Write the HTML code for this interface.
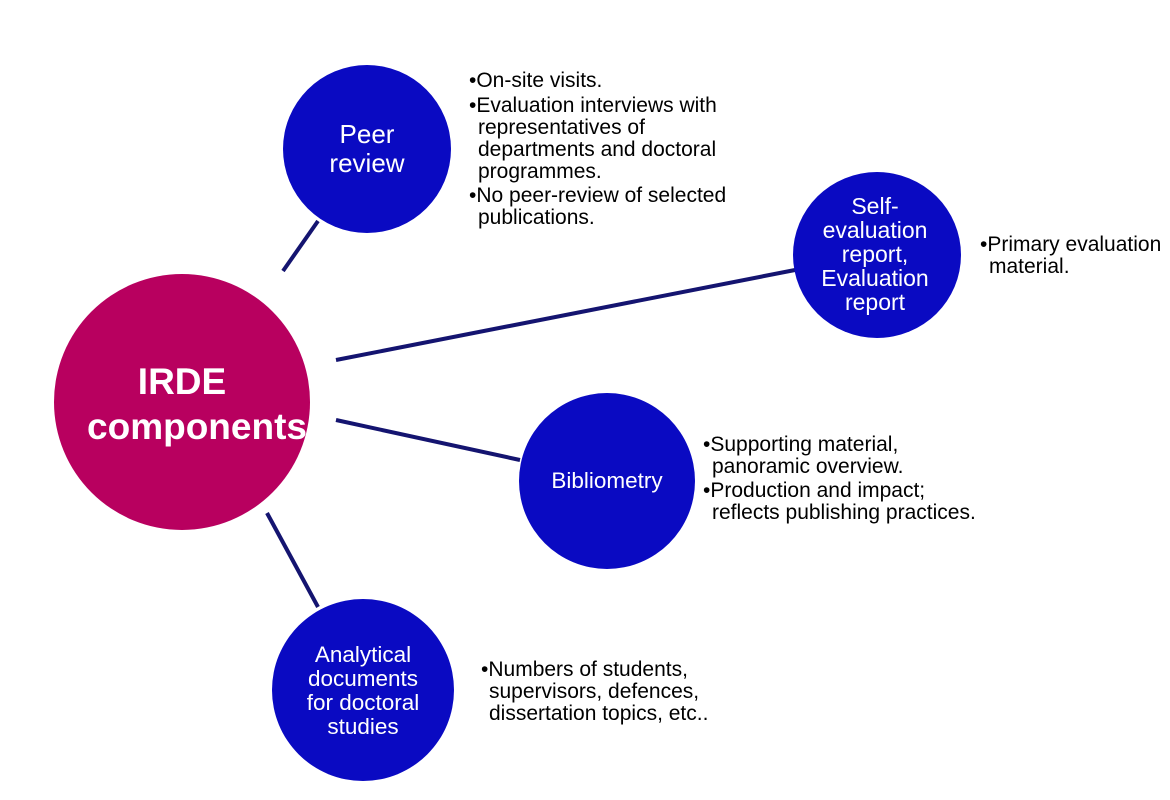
<!DOCTYPE html>
<html><head><meta charset="utf-8"><style>
html,body{margin:0;padding:0;background:#fff;}
svg{display:block;}
text{font-family:"Liberation Sans",Arial,sans-serif;}
.w{fill:#fff;text-anchor:middle;}
.b{fill:#000;font-size:21px;}
</style></head><body>
<svg width="1170" height="800" viewBox="0 0 1170 800" xmlns="http://www.w3.org/2000/svg">
<g stroke="#141470" stroke-width="4" fill="none">
<line x1="283" y1="271" x2="318" y2="221"/>
<line x1="336" y1="360" x2="795" y2="270"/>
<line x1="336" y1="420" x2="520" y2="460"/>
<line x1="267" y1="513" x2="318" y2="607"/>
</g>
<circle cx="182" cy="402" r="128" fill="#b8005f"/>
<circle cx="367" cy="149" r="84" fill="#0a0ac2"/>
<ellipse cx="877" cy="255" rx="84" ry="83" fill="#0a0ac2"/>
<circle cx="607" cy="481" r="88" fill="#0a0ac2"/>
<circle cx="363" cy="690" r="91" fill="#0a0ac2"/>

<text class="w" x="182" y="394" font-size="37" font-weight="bold">IRDE</text>
<text class="w" x="197" y="439" font-size="37" font-weight="bold">components</text>

<text class="w" x="367" y="143" font-size="26">Peer</text>
<text class="w" x="367" y="172" font-size="26">review</text>

<text class="w" x="875" y="214" font-size="23">Self-</text>
<text class="w" x="875" y="238" font-size="23">evaluation</text>
<text class="w" x="875" y="262" font-size="23">report,</text>
<text class="w" x="875" y="286" font-size="23">Evaluation</text>
<text class="w" x="875" y="310" font-size="23">report</text>

<text class="w" x="607" y="488" font-size="22.5">Bibliometry</text>

<text class="w" x="363" y="662" font-size="22.5">Analytical</text>
<text class="w" x="363" y="686" font-size="22.5">documents</text>
<text class="w" x="363" y="710" font-size="22.5">for doctoral</text>
<text class="w" x="363" y="734" font-size="22.5">studies</text>

<g class="b">
<text x="469" y="87">•On-site visits.</text>
<text x="469" y="112">•Evaluation interviews with</text>
<text x="478" y="134">representatives of</text>
<text x="478" y="156">departments and doctoral</text>
<text x="478" y="178">programmes.</text>
<text x="469" y="202">•No peer-review of selected</text>
<text x="478" y="224">publications.</text>

<text x="980" y="251">•Primary evaluation</text>
<text x="989" y="273">material.</text>

<text x="703" y="451">•Supporting material,</text>
<text x="712" y="473">panoramic overview.</text>
<text x="703" y="497">•Production and impact;</text>
<text x="712" y="519">reflects publishing practices.</text>

<text x="481" y="676">•Numbers of students,</text>
<text x="489" y="698">supervisors, defences,</text>
<text x="489" y="720">dissertation topics, etc..</text>
</g>
</svg>
</body></html>
